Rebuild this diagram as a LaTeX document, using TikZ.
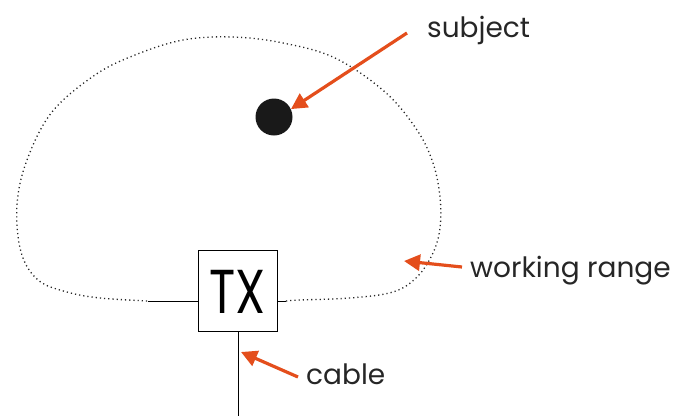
\documentclass[tikz,border=0pt]{standalone}
\usepackage{fontspec}
\setmainfont{Poppins}
\usetikzlibrary{arrows.meta}
\definecolor{arrowred}{RGB}{228,78,28}
\tikzset{
  arr/.style={draw=arrowred, line width=3.2pt, -{Triangle[width=16pt,length=16pt]}},
  wire/.style={draw=black, line width=0.9pt},
  rangeline/.style={draw=black!85, line width=1.3pt, dash pattern=on 1.2pt off 3pt},
  lbl/.style={font=\fontsize{28}{32}\selectfont, text=black!85, inner sep=0pt},
}
\begin{document}
\begin{tikzpicture}[x=1pt,y=-1pt]
\useasboundingbox (0,0) rectangle (681,416);
% transmitter box
\node[wire, draw, fill=white, minimum width=79pt, minimum height=81pt, inner sep=0pt] (tx) at (237.5,290.5) {};
\node[inner sep=0pt, xscale=0.78] (txt) at (237.5,292) {\fontsize{62}{62}\selectfont TX};
% wires
\coordinate (lw) at (148,301);
\coordinate (rw) at (286,301);
\coordinate (cb) at (238,416);
\draw[wire] (lw) -- (tx.west |- lw);
\draw[wire] (tx.east |- rw) -- (rw);
\draw[wire] (tx.south -| cb) -- (cb);
% working range
\draw[rangeline] plot[smooth, tension=0.6] coordinates {
 (286,301) (300,300) (350,298) (393,292) (417,277) (433,253) (440,228) (440,197)
 (433,163) (417,130) (385,92) (335,58) (283,43) (233,37) (183,40) (135,55)
 (95,75) (52,112) (27,160) (17,205) (21,252) (38,280) (67,292) (100,298) (148,301)};
% subject
\node[circle, fill=black!90, minimum size=37pt, inner sep=0pt] (dot) at (274,117) {};
% labels
\node[lbl, anchor=base west] (subj) at (427,37) {subject};
\node[lbl, anchor=base west] (wr) at (470,277) {working range};
\node[lbl, anchor=base west] (cable) at (306,384) {cable};
% arrows
\coordinate (t1) at (407,33);
\coordinate (t2) at (462,267);
\coordinate (t3) at (298,377);
\coordinate (h2) at (404,261);
\coordinate (h3) at (241,352);
\draw[arr] (t1) -- (dot.25);
\draw[arr] (t2) -- (h2);
\draw[arr] (t3) -- (h3);
\end{tikzpicture}
\end{document}
